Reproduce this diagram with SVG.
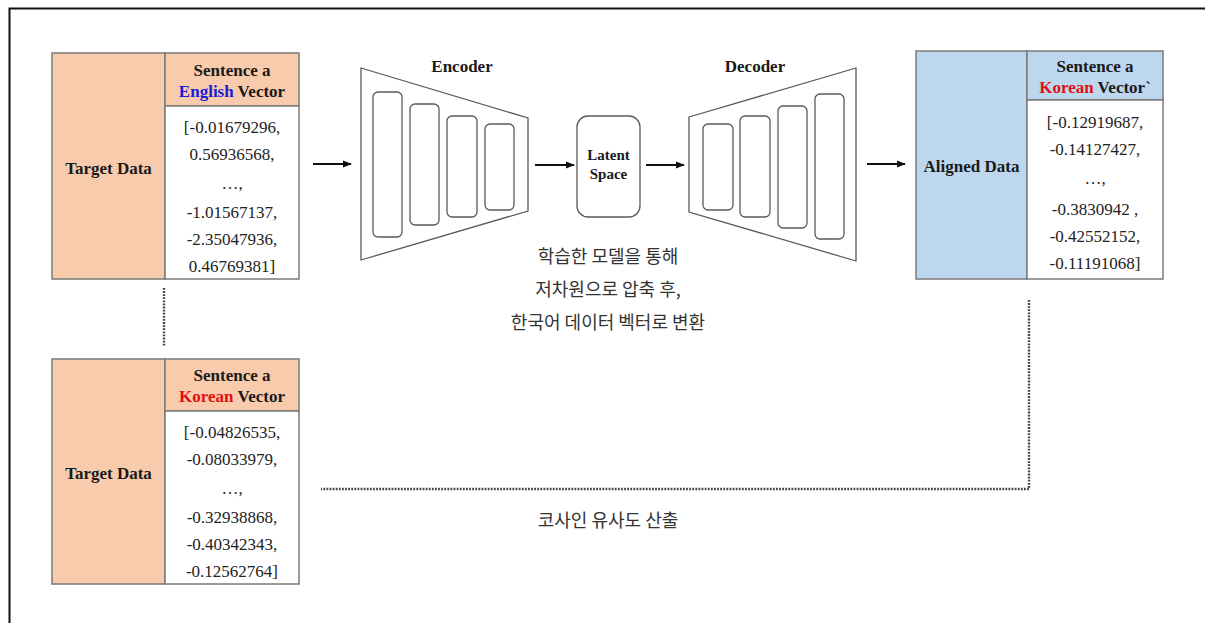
<svg xmlns="http://www.w3.org/2000/svg" width="1205" height="623" viewBox="0 0 1205 623">
  <defs>
    <style>
      .frame { stroke: #111; fill: none; }
      .cell { stroke: #7a7a7a; stroke-width: 1.5; }
      .peach { fill: #F8CBAD; }
      .blue { fill: #BDD7EE; }
      .white { fill: #ffffff; }
      .hd { font-family: "Liberation Serif", "Times New Roman", serif; font-weight: bold; font-size: 17px; fill: #1a1a1a; text-anchor: middle; }
      .val { font-family: "Liberation Serif", "Times New Roman", serif; font-size: 17px; fill: #222; text-anchor: middle; }
      .en { fill: #1c1cd6; }
      .ko { fill: #e01010; }
      .trap { fill: #fff; stroke: #5a5a5a; stroke-width: 1.3; }
      .layer { fill: #fff; stroke: #5a5a5a; stroke-width: 1.3; }
      .note { font-family: "Noto Sans CJK KR", "Noto Sans", sans-serif; font-size: 18px; fill: #333; text-anchor: middle; }
      .arrow { stroke: #111; stroke-width: 2; fill: none; marker-end: url(#head); }
      .dot { stroke: #444; stroke-width: 2.4; fill: none; stroke-dasharray: 1.8 1.3; }
    </style>
    <marker id="head" viewBox="0 0 10 10" refX="9" refY="5" markerWidth="4.5" markerHeight="4.5" orient="auto" markerUnits="strokeWidth">
      <path d="M0,1 L10,5 L0,9 z" fill="#111"/>
    </marker>
  </defs>

  <rect width="1205" height="623" fill="#ffffff"/>
  <!-- page frame (left and top edges) -->
  <path class="frame" d="M9.5,623 V8.5 H1205" stroke-width="2"/>

  <!-- English source vector table -->
  <g id="target-english">
    <rect class="cell peach" x="52" y="53" width="113" height="226"/>
    <rect class="cell peach" x="165" y="53" width="134" height="53"/>
    <rect class="cell white" x="165" y="106" width="134" height="173"/>
    <text class="hd" x="108.5" y="174">Target Data</text>
    <text class="hd" x="232" y="76">Sentence a</text>
    <text class="hd" x="232" y="97"><tspan class="en">English</tspan> Vector</text>
    <text class="val" x="232" y="133">[-0.01679296,</text>
    <text class="val" x="232" y="160">0.56936568,</text>
    <text class="val" x="232" y="189">…,</text>
    <text class="val" x="232" y="218">-1.01567137,</text>
    <text class="val" x="232" y="245">-2.35047936,</text>
    <text class="val" x="232" y="272">0.46769381]</text>
  </g>

  <!-- Korean reference vector table -->
  <g id="target-korean">
    <rect class="cell peach" x="52" y="359" width="113" height="225"/>
    <rect class="cell peach" x="165" y="359" width="134" height="52"/>
    <rect class="cell white" x="165" y="411" width="134" height="173"/>
    <text class="hd" x="108.5" y="479">Target Data</text>
    <text class="hd" x="232" y="381">Sentence a</text>
    <text class="hd" x="232" y="402"><tspan class="ko">Korean</tspan> Vector</text>
    <text class="val" x="232" y="438">[-0.04826535,</text>
    <text class="val" x="232" y="465">-0.08033979,</text>
    <text class="val" x="232" y="494">…,</text>
    <text class="val" x="232" y="523">-0.32938868,</text>
    <text class="val" x="232" y="550">-0.40342343,</text>
    <text class="val" x="232" y="577">-0.12562764]</text>
  </g>

  <!-- encoder -->
  <g id="encoder">
    <polygon class="trap" points="361,68 528,118 528,211 361,260"/>
    <rect class="layer" x="373" y="92" width="29" height="145" rx="5"/>
    <rect class="layer" x="410" y="104" width="29" height="121" rx="5"/>
    <rect class="layer" x="447" y="116" width="30" height="101" rx="5"/>
    <rect class="layer" x="485" y="124" width="29" height="86" rx="5"/>
    <text class="hd" x="462" y="72">Encoder</text>
  </g>

  <!-- latent space -->
  <g id="latent">
    <rect class="layer" x="577" y="116" width="63" height="101" rx="11"/>
    <text class="hd" x="608.5" y="160" style="font-size:15px">Latent</text>
    <text class="hd" x="608.5" y="179" style="font-size:15px">Space</text>
  </g>

  <!-- decoder -->
  <g id="decoder">
    <polygon class="trap" points="689,117 856,68 856,261 689,212"/>
    <rect class="layer" x="703" y="124" width="30" height="86" rx="5"/>
    <rect class="layer" x="740" y="116" width="30" height="101" rx="5"/>
    <rect class="layer" x="778" y="106" width="29" height="122" rx="5"/>
    <rect class="layer" x="815" y="94" width="29" height="145" rx="5"/>
    <text class="hd" x="755" y="72">Decoder</text>
  </g>

  <!-- aligned output table -->
  <g id="aligned">
    <rect class="cell blue" x="916" y="51" width="111" height="228"/>
    <rect class="cell blue" x="1027" y="51" width="136" height="49"/>
    <rect class="cell white" x="1027" y="100" width="136" height="179"/>
    <text class="hd" x="971.5" y="172">Aligned Data</text>
    <text class="hd" x="1095" y="72">Sentence a</text>
    <text class="hd" x="1095" y="93"><tspan class="ko">Korean</tspan> Vector`</text>
    <text class="val" x="1095" y="128">[-0.12919687,</text>
    <text class="val" x="1095" y="155">-0.14127427,</text>
    <text class="val" x="1095" y="184">…,</text>
    <text class="val" x="1095" y="215">-0.3830942 ,</text>
    <text class="val" x="1095" y="242">-0.42552152,</text>
    <text class="val" x="1095" y="269">-0.11191068]</text>
  </g>

  <!-- notes -->
  <g id="notes">
    <text class="note" x="608" y="263">학습한 모델을 통해</text>
    <text class="note" x="608" y="296">저차원으로 압축 후,</text>
    <text class="note" x="608" y="329">한국어 데이터 벡터로 변환</text>
    <text class="note" x="608" y="527">코사인 유사도 산출</text>
  </g>

  <!-- connectors -->
  <g id="connectors">
    <line class="arrow" x1="313" y1="164" x2="351" y2="164"/>
    <line class="arrow" x1="535" y1="165" x2="574" y2="165"/>
    <line class="arrow" x1="646" y1="165" x2="684" y2="165"/>
    <line class="arrow" x1="867" y1="164" x2="905" y2="164"/>
    <line class="dot" x1="164" y1="288" x2="164" y2="346"/>
    <polyline class="dot" points="1029,300 1029,489 321,489"/>
  </g>
</svg>
